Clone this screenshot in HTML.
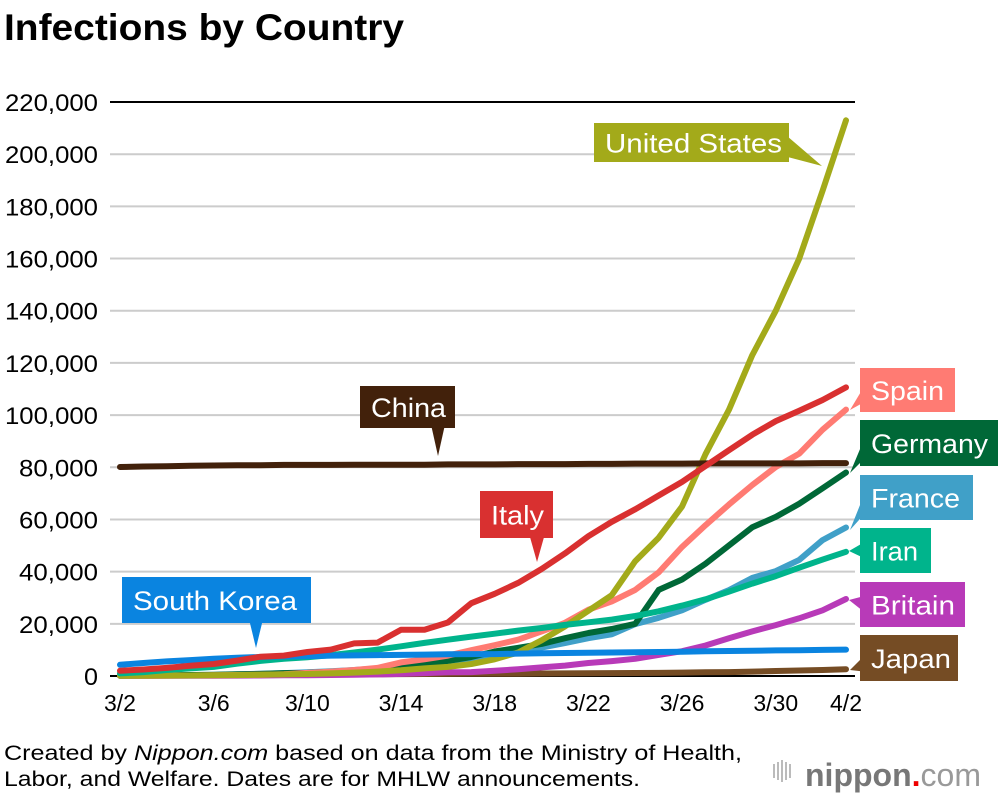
<!DOCTYPE html>
<html><head><meta charset="utf-8"><style>
html,body{margin:0;padding:0;background:#fff;}
body{width:1000px;height:798px;overflow:hidden;font-family:"Liberation Sans",Arial,sans-serif;}
</style></head><body>
<svg id="s" width="1000" height="798" xmlns="http://www.w3.org/2000/svg" font-family="Liberation Sans, Arial, sans-serif">
<text x="4" y="40" font-size="37" font-weight="bold" fill="#000" textLength="400" lengthAdjust="spacingAndGlyphs">Infections by Country</text>
<g id="grid"></g>
<g id="lines" fill="none" stroke-width="6" stroke-linejoin="round" stroke-linecap="round"></g>
<g id="labels"></g>
<text x="4" y="760" font-size="21" fill="#000" textLength="738" lengthAdjust="spacingAndGlyphs">Created by <tspan font-style="italic">Nippon.com</tspan> based on data from the Ministry of Health,</text>
<text x="4" y="786" font-size="21" fill="#000" textLength="636" lengthAdjust="spacingAndGlyphs">Labor, and Welfare. Dates are for MHLW announcements.</text>
<g fill="#bbb"><rect x="773" y="764" width="2" height="14"/><rect x="777" y="762" width="2" height="18"/><rect x="781" y="760" width="2" height="22"/><rect x="785" y="762" width="2" height="18"/><rect x="789" y="764" width="2" height="14"/></g>
<text x="805" y="786" font-size="32" font-weight="bold" fill="#777">nippon<tspan fill="#e00">.</tspan><tspan font-weight="normal" fill="#999">com</tspan></text>
</svg>
<script>
var NS="http://www.w3.org/2000/svg";
function el(p,t,a,txt){var e=document.createElementNS(NS,t);for(var k in a)e.setAttribute(k,a[k]);if(txt!==undefined)e.textContent=txt;document.getElementById(p).appendChild(e);return e;}
function X(i){return 120+i*23.42;}
function Y(v){return 676-v*2.609;}
for(var k=0;k<=11;k++){var v=k*20;var y=Y(v);
 el("grid","line",{x1:110,x2:855,y1:y,y2:y,stroke:(k==0||k==11)?"#000":"#ccc","stroke-width":2});
 var s=(v==0?"0":v+",000");var d=s.replace(/,/g,"").length,c=s.length-d;
 el("grid","text",{x:98,y:y+9,"font-size":24,"text-anchor":"end",fill:"#000",textLength:14*d+9*c,lengthAdjust:"spacingAndGlyphs"},s);}
var xl=[[0,"3/2"],[4,"3/6"],[8,"3/10"],[12,"3/14"],[16,"3/18"],[20,"3/22"],[24,"3/26"],[28,"3/30"],[31,"4/2"]];
xl.forEach(function(a){el("grid","text",{x:X(a[0]),y:711,"font-size":23,"text-anchor":"middle",fill:"#000"},a[1]);});
var D={
japan:["#754c24",[0.25,0.27,0.3,0.33,0.36,0.42,0.46,0.5,0.53,0.57,0.62,0.67,0.72,0.77,0.81,0.84,0.87,0.9,0.95,1.0,1.05,1.1,1.15,1.2,1.3,1.4,1.5,1.7,1.9,2.1,2.3,2.6]],
britain:["#b83ab8",[0.04,0.05,0.09,0.1,0.12,0.16,0.2,0.27,0.32,0.38,0.46,0.6,0.8,1.1,1.4,1.5,2.0,2.6,3.3,4.0,5.0,5.7,6.6,8.1,9.5,11.7,14.5,17.1,19.5,22.1,25.2,29.5]],
france:["#40a0c8",[0.1,0.2,0.2,0.3,0.4,0.6,0.9,1.1,1.4,1.8,2.3,2.9,3.7,4.5,5.4,6.6,7.7,9.1,10.9,12.6,14.5,16.0,19.9,22.3,25.2,29.2,32.9,37.6,40.2,44.5,52.1,56.9]],
germany:["#006837",[0.1,0.2,0.24,0.4,0.5,0.7,0.8,1.1,1.2,1.6,2.0,2.7,3.7,4.6,5.8,7.3,9.4,10.8,12.3,14.5,16.5,18,20,33,37,43,50,57,61,66,72,78]],
spain:["#ff7b73",[0.1,0.1,0.15,0.2,0.26,0.4,0.5,0.67,1.2,1.7,2.3,3.1,5.2,6.4,7.8,9.9,11.8,13.9,17.1,20.4,25.4,28.6,33,39.7,49.5,57.8,65.7,73.2,80.1,85.2,94.4,102.1]],
us:["#a3aa1a",[0.1,0.1,0.15,0.2,0.25,0.35,0.45,0.6,0.75,1,1.3,1.7,2.2,2.9,3.5,4.6,6.4,9,13.7,19,25,31,44,53,65,85,102,123,140,160,186,213]],
iran:["#00b48c",[1,1.5,2.3,2.9,3.5,4.7,5.8,6.6,7.2,8.0,9.0,10.1,11.4,12.7,13.9,15.1,16.2,17.4,18.4,19.6,20.6,21.6,23.0,24.8,27.0,29.4,32.3,35.4,38.3,41.5,44.6,47.6]],
korea:["#0a84e0",[4.3,5.0,5.6,6.1,6.6,7.0,7.3,7.5,7.6,7.8,7.9,8.0,8.1,8.2,8.3,8.4,8.4,8.6,8.7,8.8,8.9,9.0,9.1,9.2,9.3,9.5,9.6,9.7,9.8,9.9,10.0,10.1]],
china:["#42210b",[80.1,80.3,80.4,80.6,80.7,80.8,80.8,80.9,80.9,80.9,81.0,81.0,81.0,81.0,81.1,81.1,81.1,81.2,81.2,81.2,81.3,81.3,81.4,81.4,81.4,81.5,81.5,81.5,81.5,81.5,81.6,81.6]],
italy:["#d93030",[2.0,2.5,3.1,3.9,4.6,5.9,7.4,7.8,9.2,10.1,12.5,12.8,17.7,17.7,20.5,27.9,31.5,35.7,41,47,53.6,59.1,63.9,69.2,74.4,80.5,86.5,92.5,97.7,101.7,105.8,110.6]]
};
for(var n in D){var pts=D[n][1].map(function(v,i){return X(i).toFixed(1)+","+Y(v).toFixed(1);}).join(" ");
 el("lines","polyline",{points:pts,stroke:D[n][0]});}
function lab(x,y,w,h,c,t,tail,tl){el("labels","polygon",{points:tail,fill:c});el("labels","rect",{x:x,y:y,width:w,height:h,fill:c});
 el("labels","text",{x:x+11,y:y+h/2+10,"font-size":27,fill:"#fff",textLength:tl,lengthAdjust:"spacingAndGlyphs"},t);}
lab(594,123,195,39,"#a3aa1a","United States","780,130 780,155 822,166",177);
lab(360,386,95,42,"#42210b","China","430,420 446,420 438,456",75);
lab(480,491,73,47,"#d93030","Italy","528,530 546,530 537,562",53);
lab(122,577,189,46,"#0a84e0","South Korea","248,615 264,615 256,648",164);
lab(860,368,95,44,"#ff7b73","Spain","868,380 868,400 850,410",73);
lab(860,420,138,46,"#006837","Germany","868,430 868,455 850,473",117);
lab(860,475,113,45,"#40a0c8","France","868,485 868,510 850,530",89);
lab(860,528,71,45,"#00b48c","Iran","868,540 868,560 849,551",47);
lab(860,582,105,45,"#b83ab8","Britain","868,595 868,615 849,600",84);
lab(860,635,98,46,"#754c24","Japan","868,652 868,672 850,670",80);
</script>
</body></html>
